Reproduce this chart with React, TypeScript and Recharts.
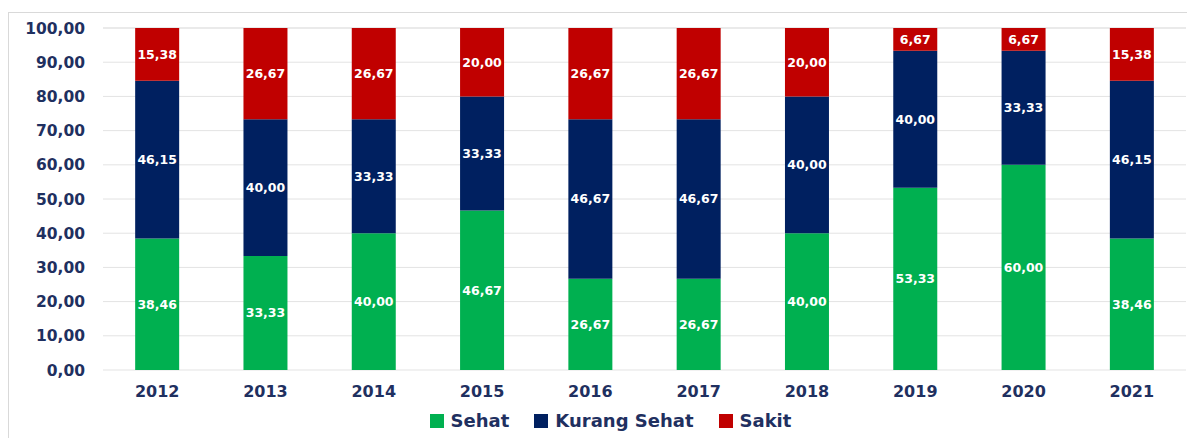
import React from "react";
import { BarChart, Bar, XAxis, YAxis, CartesianGrid, Legend, LabelList } from "recharts";

const years = ["2012", "2013", "2014", "2015", "2016", "2017", "2018", "2019", "2020", "2021"];
const sehat = [38.46, 33.33, 40.0, 46.67, 26.67, 26.67, 40.0, 53.33, 60.0, 38.46];
const kurangSehat = [46.15, 40.0, 33.33, 33.33, 46.67, 46.67, 40.0, 40.0, 33.33, 46.15];
const sakit = [15.38, 26.67, 26.67, 20.0, 26.67, 26.67, 20.0, 6.67, 6.67, 15.38];
const yTicks = [0, 10, 20, 30, 40, 50, 60, 70, 80, 90, 100];

const data = years.map((y, i) => ({
  year: y,
  sehat: sehat[i],
  kurang: kurangSehat[i],
  sakit: sakit[i],
}));

const FONT = "'DejaVu Sans', Verdana, sans-serif";
const NAVY_TEXT = "#1F3060";
const fmt = (v: any) => Number(v).toFixed(2).replace(".", ",");

const series = [
  { key: "sehat", name: "Sehat", color: "#00B050" },
  { key: "kurang", name: "Kurang Sehat", color: "#002060" },
  { key: "sakit", name: "Sakit", color: "#C00000" },
];

const LegendContent = () => (
  <div
    style={{
      display: "flex",
      justifyContent: "center",
      alignItems: "center",
      gap: 25,
      paddingLeft: 18,
      fontFamily: FONT,
      fontWeight: "bold",
      fontSize: 18,
      color: NAVY_TEXT,
    }}
  >
    {series.map((s) => (
      <div key={s.key} style={{ display: "flex", alignItems: "center" }}>
        <span style={{ width: 14, height: 14, background: s.color, display: "inline-block", marginRight: 7 }} />
        <span>{s.name}</span>
      </div>
    ))}
  </div>
);

export default function App() {
  return (
    <div style={{ paddingTop: 4 }}>
      <div style={{ border: "1px solid #D9D9D9", width: 1200, height: 440, boxSizing: "border-box" }}>
        <BarChart
          width={1185}
          height={425}
          data={data}
          margin={{ top: 15, right: 8, left: 14, bottom: 8 }}
          barCategoryGap="29.7%"
        >
          <CartesianGrid vertical={false} stroke="#E3E3E3" />
          <XAxis
            dataKey="year"
            axisLine={false}
            tickLine={false}
            height={30}
            tickMargin={10}
            tick={{ fill: NAVY_TEXT, fontFamily: FONT, fontWeight: "bold", fontSize: 16 }}
          />
          <YAxis
            width={80}
            domain={[0, 100]}
            ticks={yTicks}
            interval={0}
            axisLine={false}
            tickLine={false}
            tickMargin={12}
            tickFormatter={fmt}
            tick={{ fill: NAVY_TEXT, fontFamily: FONT, fontWeight: "bold", fontSize: 15.5 }}
          />
          <Legend
            verticalAlign="bottom"
            height={30}
            content={<LegendContent />}
            wrapperStyle={{ position: "absolute", left: 0, top: 397, width: 1185 }}
          />
          {series.map((s) => (
            <Bar key={s.key} dataKey={s.key} name={s.name} stackId="a" fill={s.color} isAnimationActive={false}>
              <LabelList
                dataKey={s.key}
                position="center"
                formatter={fmt}
                fill="#FFFFFF"
                style={{ fontFamily: FONT, fontWeight: "bold", fontSize: 12.5 }}
              />
            </Bar>
          ))}
        </BarChart>
      </div>
    </div>
  );
}
